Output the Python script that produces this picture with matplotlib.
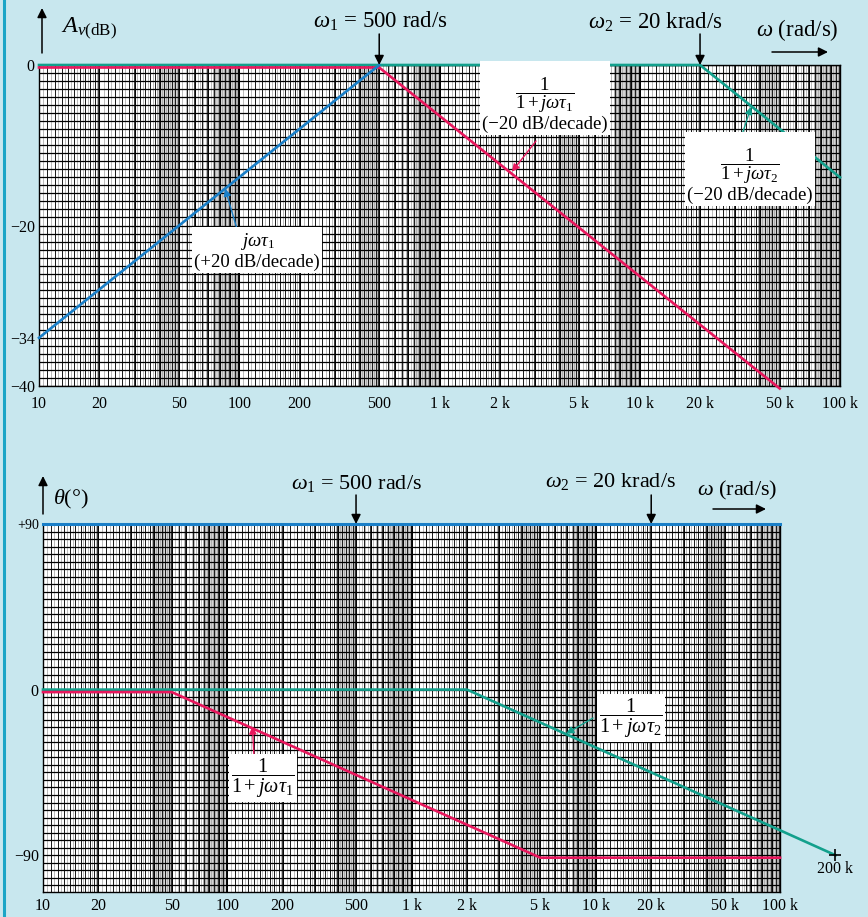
import numpy as np
import matplotlib
matplotlib.use("Agg")
import matplotlib.pyplot as plt
import matplotlib.transforms as mtransforms
from matplotlib.lines import Line2D

plt.rcParams['font.family'] = ['Liberation Serif', 'DejaVu Serif']
plt.rcParams['mathtext.fontset'] = 'custom'
plt.rcParams['mathtext.rm'] = 'Liberation Serif'
plt.rcParams['mathtext.it'] = 'Liberation Serif:italic'
plt.rcParams['mathtext.bf'] = 'Liberation Serif:bold'

# ---------------- data ----------------
w1 = 500
w2 = 20000

# magnitude plot (dB)
freq_blue_mag = [10, 500]
mag_blue = [-34, 0]
freq_red_mag = [10, 500, 50000]
mag_red = [0, 0, -40]
freq_teal_mag = [10, 20000, 100000]
mag_teal = [0, 0, -14]

# phase plot (degrees)
freq_blue_ph = [10, 100000]
ph_blue = [90, 90]
freq_red_ph = [10, 50, 5000, 100000]
ph_red = [0, 0, -90, -90]
freq_teal_ph = [10, 2000, 200000]
ph_teal = [0, 0, -90]

x_ticks = [10, 20, 50, 100, 200, 500, 1000, 2000, 5000, 10000, 20000, 50000, 100000]
x_ticklabels = ['10', '20', '50', '100', '200', '500', '1 k', '2 k', '5 k',
                '10 k', '20 k', '50 k', '100 k']
mag_yticks = [0, -20, -34, -40]
mag_yticklabels = ['0', '\u221220', '\u221234', '\u221240']
ph_yticks = [90, 0, -90]
ph_yticklabels = ['+90', '0', '\u221290']

# ---------------- style ----------------
BG = '#c8e7ee'
BLUE = '#1a7fc8'
RED = '#e8175d'
TEAL = '#12a08c'
W, H = 868, 917


def P(x, y):
    return (x / W, 1 - y / H)


fig = plt.figure(figsize=(W / 100, H / 100), dpi=100, facecolor=BG)
ax1 = fig.add_axes([39 / W, 1 - 386 / H, 801 / W, 321 / H])
ax2 = fig.add_axes([43 / W, 1 - 892 / H, 737 / W, 368 / H])

fig.add_artist(Line2D([3.5 / W, 3.5 / W], [0, 1], transform=fig.transFigure,
                      color='#1ba5c6', lw=2.2))


def log_paper(ax, ylo, yhi, ystep):
    decades = [10, 100, 1000, 10000]
    light = np.concatenate([np.arange(1, 2, 0.05), np.arange(2, 5, 0.1), np.arange(5, 10, 0.2)])
    dark = np.concatenate([np.arange(1, 2, 0.1), np.arange(2, 5, 0.2), np.arange(5, 10, 0.5)])
    major = np.arange(1, 11)
    tx = ax.get_xaxis_transform()
    for d in decades:
        ax.axvspan(3.9 * d, 5.0 * d, color='#9a9a9a', alpha=0.42, lw=0, zorder=0.3)
        ax.axvspan(7.4 * d, 10.0 * d, color='#9a9a9a', alpha=0.42, lw=0, zorder=0.3)
        ax.vlines(light * d, 0, 1, transform=tx, colors='#a0a0a0', lw=0.5, zorder=0.5)
        ax.vlines(dark * d, 0, 1, transform=tx, colors='#1a1a1a', lw=0.7, zorder=0.6)
        ax.vlines(major * d, 0, 1, transform=tx, colors='black', lw=1.1, zorder=0.7)
    ty = ax.get_yaxis_transform()
    ys = np.arange(yhi, ylo - 1e-9, -ystep)
    ax.hlines(ys, 0, 1, transform=ty, colors='black', lw=0.9, zorder=0.8)


for ax in (ax1, ax2):
    ax.set_xscale('log')
    ax.set_xlim(10, 100000)
    ax.set_facecolor('white')
    ax.set_xticks(x_ticks)
    ax.set_xticklabels(x_ticklabels)
    ax.xaxis.set_minor_locator(matplotlib.ticker.NullLocator())
    ax.tick_params(length=0, labelsize=11.5)
    for s in ax.spines.values():
        s.set_color('black')
        s.set_linewidth(1.0)

ax1.set_ylim(-40, 0)
ax1.set_yticks(mag_yticks)
ax1.set_yticklabels(mag_yticklabels)
ax1.tick_params(axis='x', pad=7)
ax1.tick_params(axis='y', pad=3)
log_paper(ax1, -40, 0, 1.0)

ax2.set_ylim(-110, 90)
ax2.set_yticks(ph_yticks)
ax2.set_yticklabels(ph_yticklabels)
ax2.tick_params(axis='x', pad=4)
ax2.tick_params(axis='y', pad=3)
for lab in ax2.get_yticklabels():
    if lab.get_text() == '+90':
        lab.set_fontsize(10)
log_paper(ax2, -110, 90, 90 / 22)

lw = 1.9
off_red1 = ax1.transData + mtransforms.ScaledTranslation(0, -2.5 / 100, fig.dpi_scale_trans)
off_red2 = ax2.transData + mtransforms.ScaledTranslation(0, -2.5 / 100, fig.dpi_scale_trans)

ax1.plot(freq_teal_mag, mag_teal, color=TEAL, lw=lw, clip_on=False, zorder=3)
ax1.plot(freq_red_mag, mag_red, color=RED, lw=lw, clip_on=False, zorder=3, transform=off_red1)
ax1.plot(freq_blue_mag, mag_blue, color=BLUE, lw=lw, clip_on=False, zorder=3)

ax2.plot(freq_blue_ph, ph_blue, color=BLUE, lw=lw + 0.3, clip_on=False, zorder=3)
ax2.plot(freq_teal_ph, ph_teal, color=TEAL, lw=lw, clip_on=False, zorder=3)
ax2.plot(freq_red_ph, ph_red, color=RED, lw=lw, clip_on=False, zorder=3, transform=off_red2)
ax2.plot([freq_teal_ph[-1]], [ph_teal[-1]], marker='+', color='black', ms=9, mew=1.2,
         clip_on=False, zorder=4)
ax2.annotate('200 k', xy=(freq_teal_ph[-1], ph_teal[-1]), xytext=(0, -14),
             textcoords='offset pixels', ha='center', va='center', fontsize=11.5,
             annotation_clip=False)

# ---------------- annotations ----------------
black_arrow = dict(arrowstyle='-|>', color='black', lw=1.1, mutation_scale=14,
                   shrinkA=0, shrinkB=0)

# top panel
fig.text(*P(61, 29), r'$A_{v\mathrm{(dB)}}$', fontsize=17.5, ha='left', va='center')
fig.add_artist(matplotlib.patches.FancyArrowPatch(P(42, 53), P(42, 8), transform=fig.transFigure,
                                                  **black_arrow))
fig.text(*P(380, 21), r'$\omega_1$ = 500 rad/s', fontsize=16.5, ha='center', va='center')
ax1.annotate('', xy=(w1, 0), xytext=(0, 31), textcoords='offset pixels',
             arrowprops=black_arrow, annotation_clip=False)
fig.text(*P(655, 22), r'$\omega_2$ = 20 krad/s', fontsize=16.5, ha='center', va='center')
ax1.annotate('', xy=(w2, 0), xytext=(0, 31), textcoords='offset pixels',
             arrowprops=black_arrow, annotation_clip=False)
fig.text(*P(797, 30), r'$\omega$ (rad/s)', fontsize=16.5, ha='center', va='center')
fig.add_artist(matplotlib.patches.FancyArrowPatch(P(772, 52), P(828, 52), transform=fig.transFigure,
                                                  **black_arrow))

box = dict(facecolor='white', edgecolor='none', pad=1.5)

fig.text(*P(545, 104), r'$\dfrac{1}{1+j\omega\tau_1}$' + '\n(\u221220 dB/decade)',
         fontsize=13.5, ha='center', va='center', multialignment='center', bbox=box, zorder=5,
         linespacing=1.0)
ax1.annotate('', xy=(2300, -13.3), xytext=P(536, 141), textcoords='figure fraction',
             arrowprops=dict(arrowstyle='-|>', color=RED, lw=1.0, mutation_scale=11,
                             shrinkA=0, shrinkB=0), annotation_clip=False)

fig.text(*P(750, 175), r'$\dfrac{1}{1+j\omega\tau_2}$' + '\n(\u221220 dB/decade)',
         fontsize=13.5, ha='center', va='center', multialignment='center', bbox=box, zorder=5,
         linespacing=1.0)
ax1.annotate('', xy=(36000, -5.2), xytext=P(739, 144), textcoords='figure fraction',
             arrowprops=dict(arrowstyle='-|>', color=TEAL, lw=1.0, mutation_scale=11,
                             shrinkA=0, shrinkB=0), annotation_clip=False)

fig.text(*P(257, 251), r'$j\omega\tau_1$' + '\n(+20 dB/decade)',
         fontsize=13.5, ha='center', va='center', multialignment='center', bbox=box, zorder=5,
         linespacing=1.1)
ax1.annotate('', xy=(85, -15.4), xytext=P(237, 229), textcoords='figure fraction',
             arrowprops=dict(arrowstyle='-|>', color=BLUE, lw=1.0, mutation_scale=11,
                             shrinkA=0, shrinkB=0), annotation_clip=False)

# bottom panel
fig.text(*P(53, 499), r'$\theta$(°)', fontsize=16, ha='left', va='center')
fig.add_artist(matplotlib.patches.FancyArrowPatch(P(43, 514), P(43, 476), transform=fig.transFigure,
                                                  **black_arrow))
fig.text(*P(356, 484), r'$\omega_1$ = 500 rad/s', fontsize=16, ha='center', va='center')
ax2.annotate('', xy=(w1, 90), xytext=(0, 29), textcoords='offset pixels',
             arrowprops=black_arrow, annotation_clip=False)
fig.text(*P(610, 482), r'$\omega_2$ = 20 krad/s', fontsize=16, ha='center', va='center')
ax2.annotate('', xy=(w2, 90), xytext=(0, 29), textcoords='offset pixels',
             arrowprops=black_arrow, annotation_clip=False)
fig.text(*P(737, 490), r'$\omega$ (rad/s)', fontsize=16, ha='center', va='center')
fig.add_artist(matplotlib.patches.FancyArrowPatch(P(713, 509), P(766, 509), transform=fig.transFigure,
                                                  **black_arrow))

fig.text(*P(263, 778), r'$\dfrac{1}{1+j\omega\tau_1}$',
         fontsize=14.5, ha='center', va='center', bbox=box, zorder=5)
ax2.annotate('', xy=(137, -20), xytext=P(254, 757), textcoords='figure fraction',
             arrowprops=dict(arrowstyle='-|>', color=RED, lw=1.0, mutation_scale=11,
                             shrinkA=0, shrinkB=0), annotation_clip=False)

fig.text(*P(631, 718), r'$\dfrac{1}{1+j\omega\tau_2}$',
         fontsize=14.5, ha='center', va='center', bbox=box, zorder=5)
ax2.annotate('', xy=(6900, -24), xytext=P(593, 718), textcoords='figure fraction',
             arrowprops=dict(arrowstyle='-|>', color=TEAL, lw=1.0, mutation_scale=11,
                             shrinkA=0, shrinkB=0), annotation_clip=False)

fig.savefig('out.png', dpi=100, facecolor=BG)
